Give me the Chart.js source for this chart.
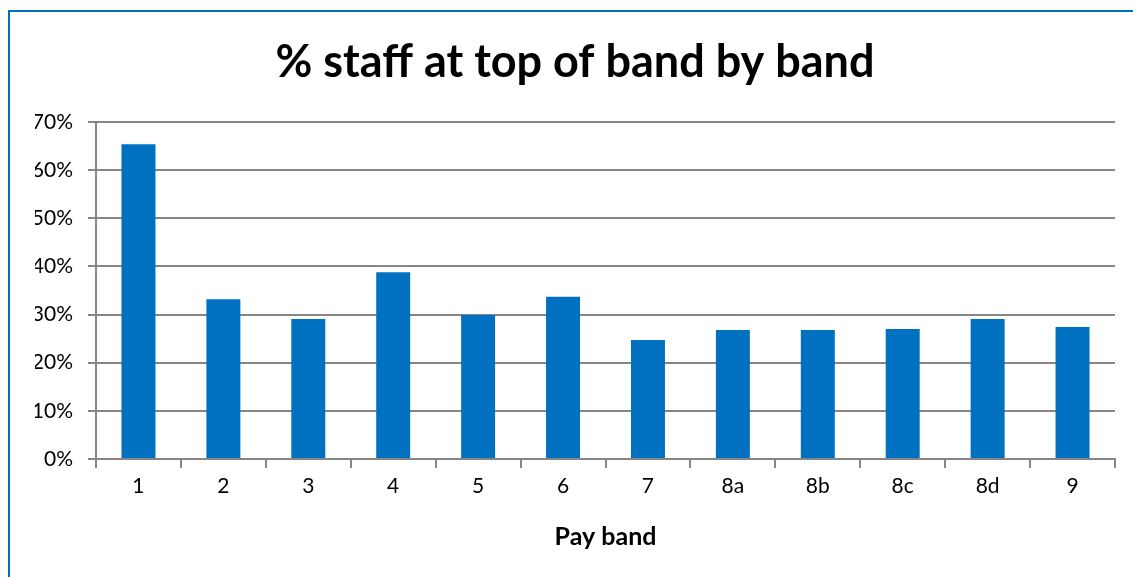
<!DOCTYPE html>
<html>
<head>
<meta charset="utf-8">
<script src="https://cdn.jsdelivr.net/npm/chart.js@4.4.1/dist/chart.umd.min.js"></script>
<style>
  html, body { margin: 0; padding: 0; background: #fff; overflow: hidden; }
  #wrap { position: relative; width: 1133px; height: 577px; }
  #frame {
    position: absolute; left: 8px; top: 10px; width: 1200px; height: 700px;
    border-left: 2px solid #0070C0; border-top: 2px solid #0070C0;
    pointer-events: none;
  }
  canvas { position: absolute; left: 0; top: 0; }
</style>
</head>
<body>
<div id="wrap">
  <canvas id="chart" width="1133" height="577"></canvas>
  <div id="frame"></div>
</div>
<script>
// Dados
const bandLabels = ["1", "2", "3", "4", "5", "6", "7", "8a", "8b", "8c", "8d", "9"];
const pctAtTop = [65.4, 33.2, 29.1, 38.8, 29.9, 33.7, 24.7, 26.8, 26.8, 27.0, 29.1, 27.4];
const yTicks = [0, 10, 20, 30, 40, 50, 60, 70];

const FONT = "Lato, 'Open Sans', sans-serif";
const GRID = "#868686";

const ctx = document.getElementById("chart").getContext("2d");

new Chart(ctx, {
    type: "bar",
    data: {
        labels: bandLabels,
        datasets: [{
            label: "% staff at top of band",
            data: pctAtTop,
            backgroundColor: "#0070C0",
            borderWidth: 0,
            barPercentage: 0.4,
            categoryPercentage: 1.0
        }]
    },
    options: {
        responsive: false,
        animation: false,
        // padding à esquerda só para centrar o título como no original
        layout: { padding: { left: 35, right: 18, top: 0, bottom: 25 } },
        plugins: {
            legend: { display: false },
            tooltip: { enabled: false },
            title: {
                display: true,
                text: "% staff at top of band by band",
                color: "#000",
                font: { family: FONT, size: 45, weight: "bold", lineHeight: 1.2 },
                padding: { top: 35, bottom: 33 }
            }
        },
        scales: {
            x: {
                offset: true,
                afterFit: (scale) => { scale.height = 577 - 25 - 459; },
                grid: {
                    offset: true,
                    drawOnChartArea: false,
                    drawTicks: true,
                    tickLength: 9,
                    color: GRID,
                    lineWidth: 2
                },
                border: { display: true, color: GRID, width: 2 },
                ticks: {
                    color: "#000",
                    font: { family: FONT, size: 21 },
                    padding: 6,
                    maxRotation: 0
                },
                title: {
                    display: true,
                    text: "Pay band",
                    color: "#000",
                    font: { family: FONT, size: 25, weight: "bold", lineHeight: 1.2 },
                    padding: { top: 0, bottom: 0 }
                }
            },
            y: {
                min: 0,
                max: 70,
                afterFit: (scale) => { scale.width = 96 - 35; },
                afterBuildTicks: (scale) => { scale.ticks = yTicks.map(v => ({ value: v })); },
                grid: {
                    color: GRID,
                    lineWidth: 2,
                    tickLength: 8
                },
                border: { display: true, color: GRID, width: 2 },
                ticks: {
                    color: "#000",
                    font: { family: FONT, size: 21 },
                    padding: 15,
                    callback: (v) => v + "%"
                }
            }
        }
    }
});
</script>
</body>
</html>
